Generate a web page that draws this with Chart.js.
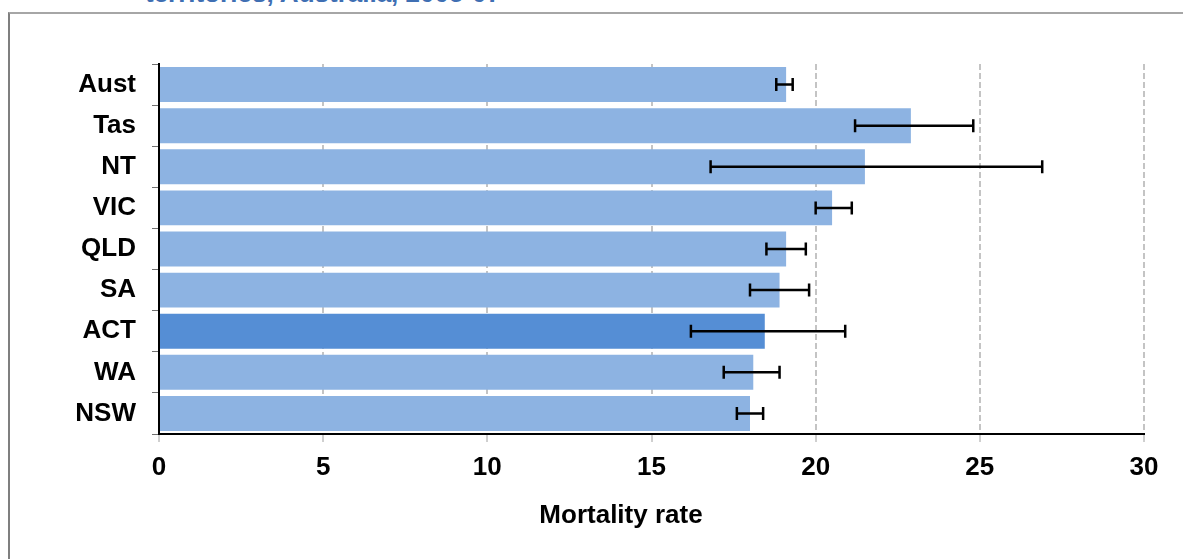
<!DOCTYPE html>
<html>
<head>
<meta charset="utf-8">
<script src="https://cdn.jsdelivr.net/npm/chart.js@4/dist/chart.umd.min.js"></script>
<style>
    html, body { margin: 0; padding: 0; background: #fff; overflow: hidden; }
    #wrap { position: relative; width: 1183px; height: 559px; }
    #frame {
        position: absolute; left: 8px; top: 12px; width: 1200px; height: 600px;
        border-top: 2px solid #a6a6a6; border-left: 2px solid #7f7f7f;
    }
    .lbl {
        position: absolute; white-space: nowrap;
        font: bold 26px "Liberation Sans", Arial, sans-serif;
    }
    #title { left: 145px; top: -22px; color: #3f6fb3; }
    #xtitle { left: 621px; top: 499px; transform: translateX(-50%); color: #000; }
    #chart { position: absolute; left: 0; top: 0; }
</style>
</head>
<body>
<div id="wrap">
    <div id="frame"></div>
    <div id="title" class="lbl">territories, Australia, 2005-07</div>
    <canvas id="chart" width="1183" height="559"></canvas>
    <div id="xtitle" class="lbl">Mortality rate</div>
</div>
<script>
// States and territories, top to bottom
const regions = ['Aust', 'Tas', 'NT', 'VIC', 'QLD', 'SA', 'ACT', 'WA', 'NSW'];
const mortalityRate = [19.1, 22.9, 21.5, 20.5, 19.1, 18.9, 18.45, 18.1, 18.0];
const ciLower = [18.8, 21.2, 16.8, 20.0, 18.5, 18.0, 16.2, 17.2, 17.6];
const ciUpper = [19.3, 24.8, 26.9, 21.1, 19.7, 19.8, 20.9, 18.9, 18.4];
const xTicks = [0, 5, 10, 15, 20, 25, 30];

const barColors = regions.map(r => r === 'ACT' ? '#558ed5' : '#8db3e2');

// Error bars drawn from the CI arrays via the chart scales
const errorBars = {
    id: 'errorBars',
    afterDatasetsDraw(chart) {
        const ctx = chart.ctx;
        const xs = chart.scales.x;
        const ys = chart.scales.y;
        ctx.save();
        ctx.strokeStyle = '#000';
        ctx.lineWidth = 2.5;
        regions.forEach((r, i) => {
            const y = ys.getPixelForValue(i);
            const x1 = xs.getPixelForValue(ciLower[i]);
            const x2 = xs.getPixelForValue(ciUpper[i]);
            ctx.beginPath();
            ctx.moveTo(x1, y); ctx.lineTo(x2, y);
            ctx.moveTo(x1, y - 6.5); ctx.lineTo(x1, y + 6.5);
            ctx.moveTo(x2, y - 6.5); ctx.lineTo(x2, y + 6.5);
            ctx.stroke();
        });
        ctx.restore();
    }
};

const font = { family: '"Liberation Sans", Arial, sans-serif', size: 26, weight: 'bold' };

new Chart(document.getElementById('chart'), {
    type: 'bar',
    data: {
        labels: regions,
        datasets: [{
            data: mortalityRate,
            backgroundColor: barColors,
            barPercentage: 0.85,
            categoryPercentage: 1
        }]
    },
    options: {
        indexAxis: 'y',
        responsive: false,
        animation: false,
        layout: { padding: { top: 64, right: 39, left: 0, bottom: 0 } },
        plugins: { legend: { display: false }, tooltip: { enabled: false } },
        scales: {
            x: {
                min: 0, max: 30,
                afterBuildTicks: s => { s.ticks = xTicks.map(v => ({ value: v })); },
                afterFit: s => { s.height = 125; },
                border: { color: '#000', width: 2, dash: [6, 3] },
                grid: {
                    color: '#c4c4c4', lineWidth: 2,
                    tickLength: 8, tickColor: '#a0a0a0', tickWidth: 1, tickBorderDash: []
                },
                ticks: { color: '#000', font: font, padding: 10 }
            },
            y: {
                afterFit: s => { s.width = 159; },
                border: { color: '#000', width: 2 },
                grid: {
                    offset: true, drawOnChartArea: false,
                    tickLength: 7, tickColor: '#707070', tickWidth: 1
                },
                ticks: { color: '#000', font: font, padding: 16 }
            }
        }
    },
    plugins: [errorBars]
});
</script>
</body>
</html>
